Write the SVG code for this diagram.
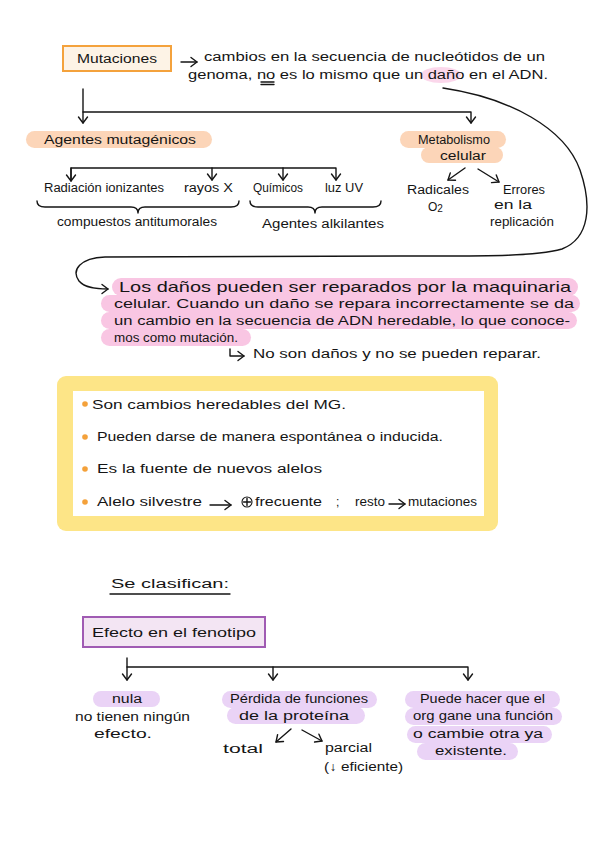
<svg xmlns="http://www.w3.org/2000/svg" width="599" height="848" viewBox="0 0 599 848">
<defs>
<style>
.t{font-family:"Liberation Sans",Arial,sans-serif;font-size:12px;fill:#151515}
.big{font-size:15px}
.ln{stroke:#151515;stroke-width:1.4;fill:none;stroke-linecap:round;stroke-linejoin:round}
.peach{fill:#fcd5b8}
.pink{fill:#f9c6e3}
.lav{fill:#ead3f6}
.dot{fill:#f4a13a}
</style>
<marker id="ah" viewBox="-8 -6 10 12" markerWidth="10" markerHeight="12" refX="0" refY="0" orient="auto" markerUnits="userSpaceOnUse">
<path d="M-6,-4.5 L0,0 L-6,4.5" fill="none" stroke="#151515" stroke-width="1.4" stroke-linecap="round" stroke-linejoin="round"/>
</marker>
</defs>
<rect width="599" height="848" fill="#ffffff"/>

<g id="mutaciones">
<rect x="63" y="46" width="108" height="25" fill="#fdf3e6" stroke="#f4a23c" stroke-width="2"/>
<text class="t" x="77" y="63" textLength="80" lengthAdjust="spacingAndGlyphs" font-size="13">Mutaciones</text>
</g>

<g id="definicion">
<ellipse cx="441" cy="75" rx="20" ry="8" class="pink" opacity="0.7"/>
<text class="t" x="204" y="61" textLength="341" lengthAdjust="spacingAndGlyphs">cambios en la secuencia de nucleótidos de un</text>
<text class="t" x="188" y="79" textLength="360" lengthAdjust="spacingAndGlyphs">genoma, no es lo mismo que un daño en el ADN.</text>
<line class="ln" x1="261" y1="82" x2="274" y2="82" stroke-width="1"/>
<line class="ln" x1="261" y1="84.5" x2="274" y2="84.5" stroke-width="1"/>
</g>

<g id="agentes">
<rect x="26" y="131" width="186" height="17" rx="8.5" class="peach"/>
<text class="t" x="44" y="144" textLength="152" lengthAdjust="spacingAndGlyphs">Agentes mutagénicos</text>
</g>

<g id="metabolismo">
<rect x="400" y="131" width="106" height="17" rx="8.5" class="peach"/>
<rect x="421" y="147" width="82" height="16" rx="8" class="peach"/>
<text class="t" x="418" y="144" textLength="72" lengthAdjust="spacingAndGlyphs">Metabolismo</text>
<text class="t" x="440" y="160" textLength="46" lengthAdjust="spacingAndGlyphs">celular</text>
</g>

<g id="radiacion"><text class="t" x="44" y="192" textLength="120" lengthAdjust="spacingAndGlyphs">Radiación ionizantes</text></g>
<g id="rayos"><text class="t" x="184" y="192" textLength="49" lengthAdjust="spacingAndGlyphs">rayos X</text></g>
<g id="quimicos"><text class="t" x="253" y="192" textLength="50" lengthAdjust="spacingAndGlyphs">Químicos</text></g>
<g id="luzuv"><text class="t" x="325" y="192" textLength="38" lengthAdjust="spacingAndGlyphs">luz UV</text></g>

<g id="compuestos"><text class="t" x="57" y="226" textLength="160" lengthAdjust="spacingAndGlyphs">compuestos antitumorales</text></g>
<g id="alkilantes"><text class="t" x="262" y="228" textLength="122" lengthAdjust="spacingAndGlyphs">Agentes alkilantes</text></g>

<g id="radicales">
<text class="t" x="407" y="194" textLength="62" lengthAdjust="spacingAndGlyphs">Radicales</text>
<text class="t" x="428" y="211" font-size="13">O<tspan font-size="10" dy="1">2</tspan></text>
</g>
<g id="errores">
<text class="t" x="503" y="194" textLength="42" lengthAdjust="spacingAndGlyphs">Errores</text>
<text class="t" x="494" y="209" textLength="38" lengthAdjust="spacingAndGlyphs">en la</text>
<text class="t" x="490" y="226" textLength="64" lengthAdjust="spacingAndGlyphs">replicación</text>
</g>

<g id="reparacion">
<rect x="112" y="278" width="466" height="18" rx="9" class="pink"/>
<rect x="101" y="295" width="479" height="17" rx="8.5" class="pink"/>
<rect x="101" y="312" width="476" height="17" rx="8.5" class="pink"/>
<rect x="101" y="329" width="150" height="17" rx="8.5" class="pink"/>
<text class="t big" x="119" y="292" textLength="452" lengthAdjust="spacingAndGlyphs">Los daños pueden ser reparados por la maquinaria</text>
<text class="t" x="114" y="308" textLength="460" lengthAdjust="spacingAndGlyphs">celular. Cuando un daño se repara incorrectamente se da</text>
<text class="t" x="114" y="325" textLength="456" lengthAdjust="spacingAndGlyphs">un cambio en la secuencia de ADN heredable, lo que conoce-</text>
<text class="t" x="114" y="342" textLength="124" lengthAdjust="spacingAndGlyphs">mos como mutación.</text>
</g>

<g id="nodanos">
<path class="ln" d="M230,349 L230,356 L244,356" marker-end="url(#ah)" stroke-width="1.2"/>
<text class="t" x="253" y="358" textLength="288" lengthAdjust="spacingAndGlyphs">No son daños y no se pueden reparar.</text>
</g>

<g id="caracteristicas">
<rect x="57" y="376" width="441" height="155" rx="9" fill="#fde587"/>
<rect x="73" y="391" width="411" height="125" fill="#ffffff"/>
<circle cx="85" cy="404" r="2.8" class="dot"/>
<circle cx="85" cy="437" r="2.8" class="dot"/>
<circle cx="85" cy="469" r="2.8" class="dot"/>
<circle cx="85" cy="502" r="2.8" class="dot"/>
<text class="t" x="92" y="409" textLength="254" lengthAdjust="spacingAndGlyphs">Son cambios heredables del MG.</text>
<text class="t" x="97" y="441" textLength="346" lengthAdjust="spacingAndGlyphs">Pueden darse de manera espontánea o inducida.</text>
<text class="t" x="97" y="473" textLength="225" lengthAdjust="spacingAndGlyphs">Es la fuente de nuevos alelos</text>
<text class="t" x="97" y="506" textLength="105" lengthAdjust="spacingAndGlyphs">Alelo silvestre</text>
<line class="ln" x1="210" y1="505" x2="231" y2="505" marker-end="url(#ah)" stroke-width="1.2"/>
<circle cx="247" cy="502" r="5" fill="none" stroke="#151515" stroke-width="1.1"/>
<line class="ln" x1="247" y1="498.5" x2="247" y2="505.5" stroke-width="1"/>
<line class="ln" x1="243.5" y1="502" x2="250.5" y2="502" stroke-width="1"/>
<text class="t" x="255" y="506" textLength="67" lengthAdjust="spacingAndGlyphs">frecuente</text>
<text class="t" x="336" y="506">;</text>
<text class="t" x="355" y="506" textLength="30" lengthAdjust="spacingAndGlyphs">resto</text>
<line class="ln" x1="389" y1="504" x2="405" y2="504" marker-end="url(#ah)" stroke-width="1.2"/>
<text class="t" x="408" y="506" textLength="69" lengthAdjust="spacingAndGlyphs">mutaciones</text>
</g>

<g id="seclasifican">
<text class="t" x="111" y="588" font-size="14" textLength="118" lengthAdjust="spacingAndGlyphs">Se clasifican:</text>
<line class="ln" x1="110" y1="594" x2="230" y2="594" stroke-width="1.5"/>
</g>

<g id="efecto">
<rect x="83" y="617" width="182" height="30" fill="#f3e5f3" stroke="#a05bb3" stroke-width="2"/>
<text class="t" x="92" y="637" textLength="164" lengthAdjust="spacingAndGlyphs">Efecto en el fenotipo</text>
</g>

<g id="nula">
<rect x="93" y="691" width="67" height="16" rx="8" class="lav"/>
<text class="t" x="112" y="703" textLength="30" lengthAdjust="spacingAndGlyphs">nula</text>
<text class="t" x="75" y="721" textLength="115" lengthAdjust="spacingAndGlyphs">no tienen ningún</text>
<text class="t" x="94" y="738" textLength="58" lengthAdjust="spacingAndGlyphs">efecto.</text>
</g>

<g id="perdida">
<rect x="222" y="691" width="155" height="17" rx="8.5" class="lav"/>
<rect x="227" y="707" width="138" height="17" rx="8.5" class="lav"/>
<text class="t" x="230" y="703" textLength="138" lengthAdjust="spacingAndGlyphs">Pérdida de funciones</text>
<text class="t" x="239" y="720" textLength="110" lengthAdjust="spacingAndGlyphs">de la proteína</text>
</g>

<g id="total"><text class="t" x="223" y="753" textLength="40" lengthAdjust="spacingAndGlyphs">total</text></g>
<g id="parcial">
<text class="t" x="325" y="752" textLength="47" lengthAdjust="spacingAndGlyphs">parcial</text>
<text class="t" x="324" y="771" textLength="79" lengthAdjust="spacingAndGlyphs">(↓ eficiente)</text>
</g>

<g id="ganancia">
<rect x="405" y="691" width="155" height="17" rx="8.5" class="lav"/>
<rect x="405" y="708" width="157" height="17" rx="8.5" class="lav"/>
<rect x="407" y="726" width="145" height="17" rx="8.5" class="lav"/>
<rect x="417" y="743" width="101" height="17" rx="8.5" class="lav"/>
<text class="t" x="420" y="703" textLength="125" lengthAdjust="spacingAndGlyphs">Puede hacer que el</text>
<text class="t" x="413" y="720" textLength="140" lengthAdjust="spacingAndGlyphs">org gane una función</text>
<text class="t" x="413" y="738" textLength="130" lengthAdjust="spacingAndGlyphs">o cambie otra ya</text>
<text class="t" x="435" y="755" textLength="72" lengthAdjust="spacingAndGlyphs">existente.</text>
</g>

<g id="connectors">
<line class="ln" x1="181" y1="62" x2="197" y2="62" marker-end="url(#ah)"/>
<line class="ln" x1="83" y1="89" x2="83" y2="123" marker-end="url(#ah)"/>
<polyline class="ln" points="83,112 471,112 471,123" marker-end="url(#ah)"/>
<polyline class="ln" points="71,180 71,168 336,168 336,180" marker-end="url(#ah)"/>
<path class="ln" d="M71,168 L71,181" marker-end="url(#ah)"/>
<line class="ln" x1="212" y1="168" x2="212" y2="180" marker-end="url(#ah)"/>
<line class="ln" x1="283" y1="168" x2="283" y2="180" marker-end="url(#ah)"/>
<path class="ln" d="M37,201 Q37,207 45,207 L131,207 Q138,207 138,213 Q138,207 145,207 L231,207 Q239,207 239,201"/>
<path class="ln" d="M250,201 Q250,207 258,207 L308,207 Q315,207 315,213 Q315,207 322,207 L373,207 Q381,207 381,201"/>
<line class="ln" x1="465" y1="168" x2="448" y2="180" marker-end="url(#ah)"/>
<line class="ln" x1="478" y1="169" x2="499" y2="182" marker-end="url(#ah)"/>
<path class="ln" d="M443,88 C510,98 565,128 580,170 C592,205 590,238 562,249 C532,257 480,256 400,256 L105,257 C80,258 71,270 79,281 C85,288 96,289 108,289" marker-end="url(#ah)"/>
<line class="ln" x1="127" y1="658" x2="127" y2="680" marker-end="url(#ah)"/>
<polyline class="ln" points="127,667 468,667 468,680" marker-end="url(#ah)"/>
<line class="ln" x1="273" y1="667" x2="273" y2="680" marker-end="url(#ah)"/>
<line class="ln" x1="291" y1="729" x2="276" y2="742" marker-end="url(#ah)"/>
<line class="ln" x1="302" y1="730" x2="322" y2="741" marker-end="url(#ah)"/>
</g>
</svg>
